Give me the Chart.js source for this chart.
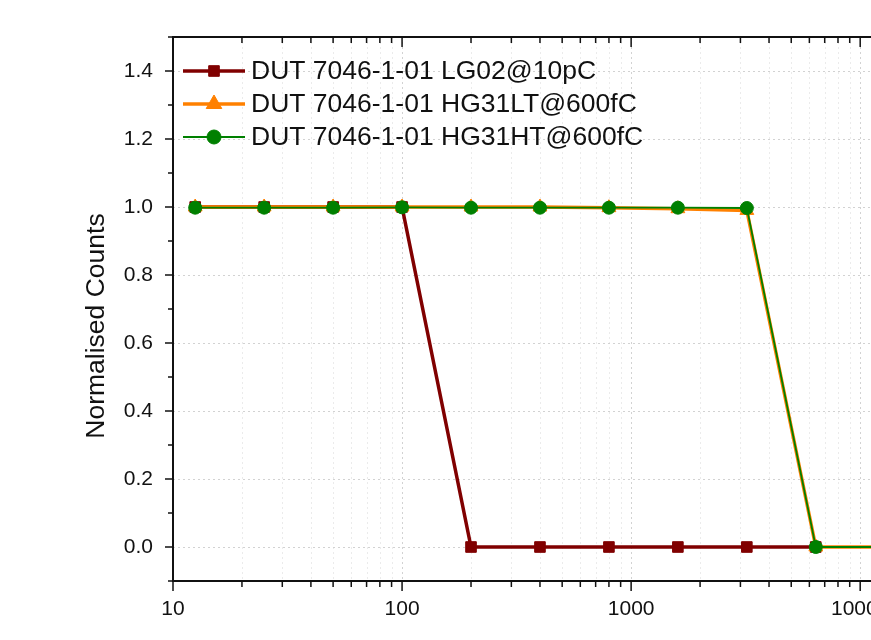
<!DOCTYPE html>
<html>
<head>
<meta charset="utf-8">
<script src="https://cdn.jsdelivr.net/npm/chart.js@4.4.0/dist/chart.umd.min.js"></script>
<style>
html,body{margin:0;padding:0;background:#fff;}
#wrap{width:871px;height:640px;overflow:hidden;position:relative;}
canvas{display:block;}
</style>
</head>
<body>
<div id="wrap"><canvas id="c" width="1000" height="640"></canvas></div>
<script>
// ---- data ----
const xValues = [12.5, 25, 50, 100, 200, 400, 800, 1600, 3200, 6400, 12800];
const lg02 = [1.0, 1.0, 1.0, 1.0, 0.0, 0.0, 0.0, 0.0, 0.0, 0.0];
const hg31lt = [1.0, 1.0, 1.0, 1.0, 1.0, 1.0, 0.998, 0.995, 0.99, 0.0, 0.0];
const hg31ht = [0.998, 0.998, 0.998, 0.999, 0.998, 0.998, 0.998, 0.998, 0.997, 0.0, 0.0];
const seriesNames = ["DUT 7046-1-01 LG02@10pC", "DUT 7046-1-01 HG31LT@600fC", "DUT 7046-1-01 HG31HT@600fC"];
const yTickLabels = [0.0, 0.2, 0.4, 0.6, 0.8, 1.0, 1.2, 1.4];
const yMinorTicks = [-0.1, 0.1, 0.3, 0.5, 0.7, 0.9, 1.1, 1.3, 1.5];
const xTickLabels = [10, 100, 1000, 10000];
const yTitle = "Normalised Counts";

const toPts = (arr) => arr.map((v, i) => ({x: xValues[i], y: v}));

const xMinor = [];
for (let d = 10; d <= 10000; d *= 10) for (let k = 2; k <= 9; k++) xMinor.push(d * k);

const FONT = "'Liberation Sans', Arial, sans-serif";

const framePlugin = {
  id: 'frame',
  beforeDatasetsDraw(chart) {
    const {ctx, chartArea: a, scales: {x, y}} = chart;
    ctx.save();
    ctx.lineWidth = 1;
    ctx.setLineDash([2, 3]);
    ctx.strokeStyle = '#ebebeb';
    xMinor.forEach(v => {
      const px = Math.round(x.getPixelForValue(v)) + 0.5;
      ctx.beginPath(); ctx.moveTo(px, a.top); ctx.lineTo(px, a.bottom); ctx.stroke();
    });
    ctx.strokeStyle = '#d2d2d2';
    xTickLabels.forEach(v => {
      const px = Math.round(x.getPixelForValue(v)) + 0.5;
      ctx.beginPath(); ctx.moveTo(px, a.top); ctx.lineTo(px, a.bottom); ctx.stroke();
    });
    yTickLabels.forEach(v => {
      const py = Math.round(y.getPixelForValue(v)) + 0.5;
      ctx.beginPath(); ctx.moveTo(a.left, py); ctx.lineTo(a.right, py); ctx.stroke();
    });
    ctx.restore();
  },
  afterDraw(chart) {
    const {ctx, chartArea: a, scales: {x, y}} = chart;
    ctx.save();
    ctx.strokeStyle = '#111';
    ctx.lineWidth = 2;
    ctx.beginPath();
    ctx.moveTo(a.left, a.top); ctx.lineTo(a.left, a.bottom);
    ctx.moveTo(a.left - 1, a.bottom); ctx.lineTo(a.right, a.bottom);
    ctx.moveTo(a.left - 1, a.top); ctx.lineTo(a.right, a.top);
    ctx.moveTo(a.right, a.top); ctx.lineTo(a.right, a.bottom);
    ctx.stroke();
    ctx.lineWidth = 1.5;
    yTickLabels.forEach(v => {
      const py = y.getPixelForValue(v);
      ctx.beginPath(); ctx.moveTo(a.left - 8, py); ctx.lineTo(a.left, py); ctx.stroke();
    });
    yMinorTicks.forEach(v => {
      const py = y.getPixelForValue(v);
      ctx.beginPath(); ctx.moveTo(a.left - 5, py); ctx.lineTo(a.left, py); ctx.stroke();
    });
    xTickLabels.forEach(v => {
      const px = x.getPixelForValue(v);
      ctx.beginPath(); ctx.moveTo(px, a.bottom); ctx.lineTo(px, a.bottom + 10); ctx.stroke();
      ctx.beginPath(); ctx.moveTo(px, a.top); ctx.lineTo(px, a.top + 10); ctx.stroke();
    });
    xMinor.forEach(v => {
      const px = x.getPixelForValue(v);
      ctx.beginPath(); ctx.moveTo(px, a.bottom); ctx.lineTo(px, a.bottom + 6); ctx.stroke();
      ctx.beginPath(); ctx.moveTo(px, a.top); ctx.lineTo(px, a.top + 6); ctx.stroke();
    });
    ctx.fillStyle = '#111';
    ctx.font = '26.5px ' + FONT;
    ctx.textAlign = 'center';
    ctx.textBaseline = 'middle';
    ctx.translate(97, 326);
    ctx.rotate(-Math.PI / 2);
    ctx.fillText(yTitle, 0, 0);
    ctx.restore();

    ctx.save();
    const rows = [71, 104, 137];
    const legendRadius = [7.5, 9, 7];
    chart.data.datasets.forEach((ds, i) => {
      const ry = rows[i];
      ctx.strokeStyle = ds.borderColor;
      ctx.lineWidth = ds.borderWidth;
      ctx.beginPath(); ctx.moveTo(183, ry); ctx.lineTo(245, ry); ctx.stroke();
      ctx.fillStyle = ds.pointBackgroundColor;
      ctx.strokeStyle = ds.pointBorderColor;
      ctx.lineWidth = 1;
      Chart.helpers.drawPoint(ctx, {pointStyle: ds.pointStyle, radius: legendRadius[i], borderWidth: 1, rotation: 0}, 214, ry);
      ctx.fillStyle = '#111';
      ctx.font = '26.5px ' + FONT;
      ctx.textAlign = 'left';
      ctx.textBaseline = 'middle';
      ctx.fillText(ds.label, 251, ry + 1);
    });
    ctx.restore();
  }
};

new Chart(document.getElementById('c'), {
  type: 'line',
  data: {
    datasets: [
      {label: seriesNames[0], data: toPts(lg02), borderColor: '#800000', backgroundColor: '#800000',
       pointBackgroundColor: '#800000', pointBorderColor: '#800000', borderWidth: 3.5,
       pointStyle: 'rect', pointRadius: 7.5, pointBorderWidth: 1, order: 2},
      {label: seriesNames[1], data: toPts(hg31lt), borderColor: '#ff8000', backgroundColor: '#ff8000',
       pointBackgroundColor: '#ff8000', pointBorderColor: '#ff8000', borderWidth: 3.5,
       pointStyle: 'triangle', pointRadius: 8, pointBorderWidth: 1, order: 1},
      {label: seriesNames[2], data: toPts(hg31ht), borderColor: '#008000', backgroundColor: '#008000',
       pointBackgroundColor: '#008000', pointBorderColor: '#008000', borderWidth: 1.8,
       pointStyle: 'circle', pointRadius: 6.5, pointBorderWidth: 1, order: 0}
    ]
  },
  options: {
    responsive: false,
    animation: false,
    devicePixelRatio: 1,
    layout: {padding: {left: 0, top: 37, right: 94, bottom: 0}},
    plugins: {legend: {display: false}, tooltip: {enabled: false}},
    elements: {line: {tension: 0}},
    scales: {
      x: {
        type: 'logarithmic', min: 10, max: Math.pow(10, 4.2),
        grid: {display: false, drawTicks: false},
        border: {display: false},
        afterBuildTicks: (s) => { s.ticks = xTickLabels.map(v => ({value: v})); },
        afterFit: (s) => { s.height = 59; },
        ticks: {color: '#111', font: {family: FONT, size: 21}, padding: 16, maxRotation: 0,
                callback: (v) => String(v)}
      },
      y: {
        type: 'linear', min: -0.1, max: 1.5,
        grid: {display: false, drawTicks: false},
        border: {display: false},
        afterBuildTicks: (s) => { s.ticks = yTickLabels.map(v => ({value: v})); },
        afterFit: (s) => { s.width = 173; },
        ticks: {color: '#111', font: {family: FONT, size: 21}, padding: 20,
                callback: (v) => Number(v).toFixed(1)}
      }
    }
  },
  plugins: [framePlugin]
});
</script>
</body>
</html>
